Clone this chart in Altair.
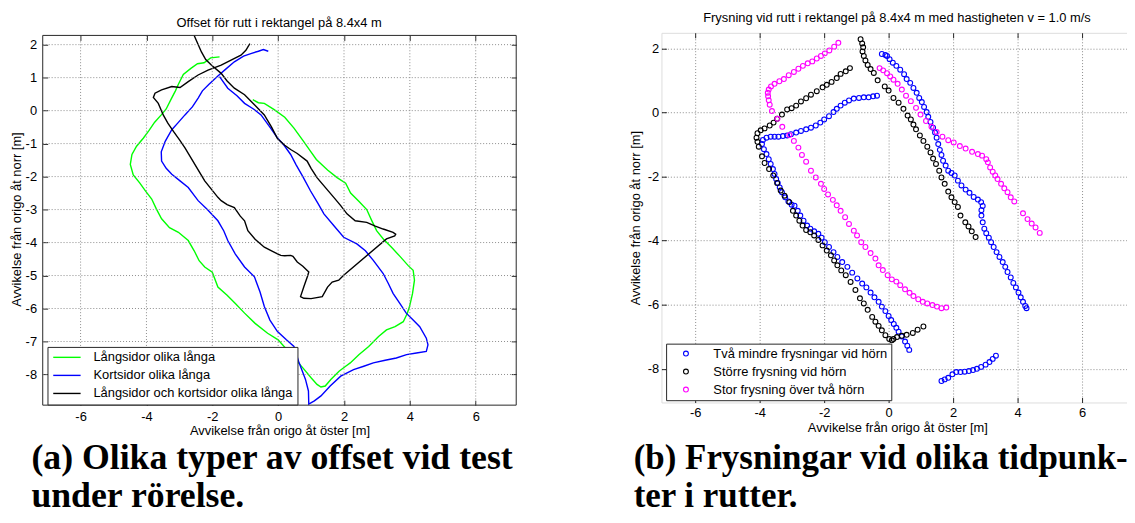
import altair as alt
import pandas as pd

FONT = "Liberation Sans"
SERIF = "Liberation Serif"
AX = "#262626"
GRID = "#8c8c8c"

# ---------------- Panel (a): offset tracks (x = öster, y = norr) ----------------
green_pts = [(-1.78,1.63),(-2.05,1.60),(-2.25,1.45),(-2.45,1.42),(-2.65,1.28),(-2.88,1.10),(-3.03,0.80),(-3.12,0.60),
             (-3.25,0.35),(-3.40,0.05),(-3.55,-0.13),(-3.75,-0.35),(-3.92,-0.60),(-4.09,-0.83),(-4.30,-1.08),(-4.44,-1.33),
             (-4.49,-1.63),(-4.40,-1.95),(-4.20,-2.20),(-4.02,-2.45),(-3.84,-2.68),(-3.70,-2.98),(-3.54,-3.28),(-3.30,-3.55),
             (-3.03,-3.69),(-2.73,-3.94),(-2.55,-4.25),(-2.40,-4.55),(-2.23,-4.74),(-2.00,-4.90),(-1.83,-5.35),(-1.55,-5.60),
             (-1.30,-5.85),(-1.02,-6.14),(-0.70,-6.45),(-0.32,-6.75),(0.00,-6.95),(0.18,-7.15),(0.45,-7.45),(0.75,-7.80),
             (1.00,-8.10),(1.18,-8.30),(1.30,-8.38),(1.43,-8.35),(1.60,-8.15),(1.85,-7.90),(2.05,-7.75),(2.19,-7.65),
             (2.45,-7.40),(2.75,-7.15),(3.05,-6.85),(3.29,-6.65),(3.55,-6.55),(3.80,-6.40),(3.92,-6.15),(3.99,-5.94),
             (4.08,-5.55),(4.14,-5.14),(4.10,-4.84),(3.95,-4.70),(3.70,-4.42),(3.45,-4.15),(3.20,-3.90),(2.99,-3.64),
             (2.85,-3.35),(2.69,-3.00),(2.45,-2.75),(2.20,-2.50),(2.05,-2.20),(1.79,-2.03),(1.50,-1.80),(1.16,-1.48),
             (0.98,-1.23),(0.75,-0.90),(0.48,-0.53),(0.20,-0.20),(-0.12,0.03),(-0.42,0.22),(-0.60,0.24),(-0.77,0.33)]

blue_pts = [(-0.30,1.80),(-0.45,1.85),(-0.60,1.80),(-0.83,1.73),(-1.05,1.65),(-1.33,1.48),(-1.60,1.25),(-1.83,1.05),
            (-2.10,0.80),(-2.30,0.60),(-2.43,0.38),(-2.60,0.12),(-2.83,-0.13),(-3.05,-0.38),(-3.23,-0.58),(-3.43,-0.93),
            (-3.55,-1.25),(-3.54,-1.53),(-3.40,-1.75),(-3.23,-1.93),(-2.98,-2.13),(-2.73,-2.33),(-2.43,-2.73),(-2.15,-3.00),
            (-1.83,-3.34),(-1.65,-3.65),(-1.53,-3.94),(-1.30,-4.35),(-1.02,-4.74),(-0.72,-5.04),(-0.55,-5.50),(-0.42,-5.94),
            (-0.25,-6.35),(-0.02,-6.70),(0.25,-6.95),(0.48,-7.15),(0.62,-7.60),(0.83,-8.15),(0.92,-8.50),(0.93,-8.90),
            (1.10,-8.80),(1.30,-8.65),(1.58,-8.35),(1.90,-8.05),(2.29,-7.85),(2.60,-7.75),(2.89,-7.65),(3.25,-7.57),
            (3.59,-7.50),(3.90,-7.40),(4.20,-7.35),(4.50,-7.30),(4.55,-7.10),(4.50,-6.90),(4.30,-6.55),(4.10,-6.35),
            (3.89,-6.14),(3.70,-5.85),(3.49,-5.54),(3.35,-5.25),(3.19,-4.94),(2.89,-4.54),(2.65,-4.25),(2.39,-4.04),
            (1.99,-3.84),(1.70,-3.50),(1.39,-3.13),(1.20,-2.80),(0.98,-2.43),(0.75,-2.00),(0.55,-1.65),(0.38,-1.33),
            (0.18,-1.05),(-0.02,-0.83),(-0.25,-0.50),(-0.52,-0.13),(-0.75,0.05),(-1.02,0.22),(-1.25,0.45),(-1.53,0.68),
            (-1.78,1.03)]

black_pts = [(-2.55,2.28),(-2.45,2.05),(-2.33,1.78),(-2.20,1.55),(-2.03,1.38),(-1.73,1.13),(-1.55,0.90),(-1.33,0.68),
             (-1.02,0.48),(-0.72,0.18),(-0.42,-0.13),(-0.20,-0.50),(-0.02,-0.85),(0.20,-1.05),(0.38,-1.18),(0.58,-1.30),
             (0.88,-1.53),(1.00,-1.75),(1.18,-2.03),(1.45,-2.35),(1.69,-2.63),(1.90,-2.88),(2.09,-3.13),(2.34,-3.34),
             (2.69,-3.39),(2.95,-3.50),(3.19,-3.59),(3.49,-3.69),(3.57,-3.75),(3.54,-3.80),(3.29,-3.89),(1.99,-4.99),
             (1.84,-5.14),(1.64,-5.20),(1.50,-5.35),(1.34,-5.64),(1.00,-5.70),(0.78,-5.69),(0.68,-5.64),(0.78,-5.34),
             (0.90,-5.00),(0.93,-4.89),(0.75,-4.72),(0.58,-4.59),(0.45,-4.42),(0.38,-4.39),(0.20,-4.40),(0.08,-4.39),
             (-0.02,-4.34),(-0.20,-4.25),(-0.42,-4.14),(-0.70,-3.90),(-0.92,-3.64),(-1.02,-3.34),(-1.15,-3.20),(-1.33,-2.94),
             (-1.55,-2.85),(-1.73,-2.73),(-1.83,-2.63),(-2.03,-2.38),(-2.23,-2.13),(-2.38,-1.88),(-2.53,-1.63),(-2.68,-1.38),
             (-2.83,-1.13),(-3.00,-0.88),(-3.18,-0.63),(-3.35,-0.38),(-3.49,-0.13),(-3.64,0.22),(-3.79,0.40),(-3.74,0.53),
             (-3.54,0.63),(-3.23,0.73),(-2.98,0.70),(-2.73,0.88),(-2.43,1.08),(-2.13,1.23),(-1.73,1.38),(-1.43,1.53),
             (-1.13,1.68),(-0.98,1.83),(-0.86,2.03)]

series_a = ["Långsidor olika långa", "Kortsidor olika långa", "Långsidor och kortsidor olika långa"]
colors_a = ["#00ff00", "#0000ff", "#000000"]

# ---------------- Panel (b): freezes ----------------
frz_blue = [(-0.21,1.82),(-0.10,1.79),(-0.05,1.76),(0.03,1.66),(0.13,1.55),(0.24,1.45),(0.36,1.33),(0.48,1.19),
            (0.56,1.04),(0.67,0.92),(0.77,0.76),(0.87,0.61),(0.95,0.45),(1.03,0.32),(1.10,0.17),(1.18,0.01),
            (1.23,-0.14),(1.30,-0.30),(1.38,-0.48),(1.44,-0.63),(1.49,-0.79),(1.54,-0.99),(1.59,-1.17),(1.64,-1.33),
            (1.69,-1.51),(1.77,-1.66),(1.85,-1.82),(1.95,-1.89),(2.05,-1.97),(2.15,-2.13),(2.26,-2.28),(2.39,-2.41),
            (2.51,-2.51),(2.64,-2.64),(2.77,-2.72),(2.87,-2.80),(2.92,-2.92),(2.88,-3.05),(2.88,-3.22),(2.92,-3.43),
            (2.97,-3.63),(3.03,-3.77),(3.11,-3.91),(3.18,-4.05),(3.26,-4.20),(3.35,-4.36),(3.44,-4.51),(3.54,-4.67),
            (3.62,-4.82),(3.69,-4.98),(3.79,-5.15),(3.87,-5.32),(3.95,-5.46),(4.03,-5.62),(4.10,-5.77),(4.17,-5.91),
            (4.24,-6.04),(4.28,-6.11),
            (-0.36,0.52),(-0.48,0.50),(-0.62,0.47),(-0.77,0.47),(-0.92,0.45),(-1.08,0.43),(-1.23,0.37),(-1.36,0.30),
            (-1.49,0.21),(-1.61,0.11),(-1.71,0.01),(-1.85,-0.12),(-2.00,-0.22),(-2.12,-0.32),(-2.26,-0.41),(-2.41,-0.48),
            (-2.56,-0.53),(-2.72,-0.58),(-2.87,-0.63),(-3.03,-0.68),(-3.15,-0.72),(-3.28,-0.74),(-3.42,-0.76),(-3.54,-0.76),
            (-3.66,-0.76),(-3.79,-0.79),(-3.90,-0.86),(-3.93,-0.99),(-3.87,-1.15),(-3.79,-1.30),(-3.72,-1.46),(-3.66,-1.61),
            (-3.59,-1.77),(-3.54,-1.92),(-3.49,-2.08),(-3.44,-2.20),(-3.38,-2.34),(-3.31,-2.49),(-3.21,-2.65),(-3.11,-2.78),
            (-3.01,-2.88),(-2.92,-2.91),(-2.82,-3.07),(-2.74,-3.22),(-2.64,-3.38),(-2.53,-3.53),(-2.43,-3.63),(-2.31,-3.71),
            (-2.18,-3.79),(-2.08,-3.91),(-1.98,-4.05),(-1.85,-4.20),(-1.71,-4.36),(-1.59,-4.51),(-1.44,-4.67),(-1.28,-4.82),
            (-1.13,-5.00),(-0.97,-5.18),(-0.82,-5.34),(-0.69,-5.46),(-0.56,-5.62),(-0.44,-5.77),(-0.31,-5.91),(-0.21,-6.06),
            (-0.10,-6.20),(0.00,-6.35),(0.08,-6.48),(0.16,-6.60),(0.24,-6.72),(0.31,-6.84),(0.41,-6.99),(0.51,-7.15),
            (0.58,-7.28),(0.64,-7.41),
            (1.64,-8.38),(1.74,-8.33),(1.85,-8.28),(1.98,-8.17),(2.10,-8.10),(2.23,-8.10),(2.36,-8.09),(2.49,-8.07),
            (2.62,-8.04),(2.74,-8.00),(2.87,-7.94),(3.01,-7.87),(3.13,-7.79),(3.23,-7.69),(3.33,-7.59)]

frz_black = [(-0.87,2.28),(-0.82,2.15),(-0.79,2.03),(-0.81,1.90),(-0.77,1.76),(-0.72,1.62),(-0.65,1.48),(-0.56,1.35),
             (-0.46,1.23),(-0.34,1.00),(-0.12,0.81),(0.00,0.68),(0.15,0.45),(0.31,0.30),(0.46,0.11),(0.59,-0.10),
             (0.69,-0.22),(0.77,-0.38),(0.85,-0.53),(0.97,-0.72),(1.08,-0.89),(1.20,-1.07),(1.30,-1.25),(1.38,-1.44),
             (1.47,-1.61),(1.57,-1.82),(1.64,-2.03),(1.74,-2.23),(1.85,-2.47),(1.95,-2.65),(2.05,-2.80),(2.15,-2.95),
             (2.23,-3.22),(2.38,-3.43),(2.48,-3.56),(2.58,-3.71),(2.70,-3.89),
             (-1.20,1.38),(-1.33,1.28),(-1.49,1.20),(-1.61,1.07),(-1.77,0.95),(-1.92,0.86),(-2.05,0.78),(-2.23,0.66),
             (-2.41,0.55),(-2.56,0.44),(-2.72,0.34),(-2.87,0.21),(-3.01,0.13),(-3.15,0.09),(-3.31,-0.07),(-3.46,-0.20),
             (-3.57,-0.32),(-3.69,-0.41),(-3.85,-0.50),(-3.97,-0.56),(-4.07,-0.65),(-4.10,-0.79),(-4.07,-0.92),(-4.03,-1.07),
             (-3.93,-1.37),(-3.85,-1.58),(-3.71,-1.77),(-3.58,-1.97),(-3.46,-2.20),(-3.35,-2.44),(-3.23,-2.60),(-3.08,-2.80),
             (-2.97,-3.07),(-2.87,-3.22),(-2.77,-3.38),(-2.67,-3.53),(-2.56,-3.67),(-2.43,-3.74),(-2.31,-3.84),(-2.18,-3.98),
             (-2.05,-4.15),(-1.92,-4.31),(-1.79,-4.46),(-1.69,-4.62),(-1.59,-4.77),(-1.47,-4.93),(-1.33,-5.08),(-1.18,-5.29),
             (-1.03,-5.54),(-0.89,-5.80),(-0.77,-5.96),(-0.65,-6.16),(-0.51,-6.38),(-0.41,-6.53),(-0.31,-6.66),(-0.21,-6.80),
             (-0.10,-6.95),(0.02,-7.07),(0.10,-7.11),(0.15,-7.07),(0.26,-7.01),(0.41,-6.97),(0.56,-6.94),(0.75,-6.88),
             (0.90,-6.78),(1.08,-6.68)]

frz_magenta = [(-1.56,2.17),(-1.69,2.05),(-1.84,1.93),(-1.98,1.84),(-2.10,1.76),(-2.23,1.68),(-2.37,1.59),(-2.51,1.53),
               (-2.66,1.45),(-2.80,1.36),(-2.94,1.26),(-3.10,1.16),(-3.25,1.04),(-3.39,0.97),(-3.54,0.89),(-3.65,0.81),
               (-3.72,0.71),(-3.75,0.61),(-3.74,0.50),(-3.72,0.38),(-3.69,0.24),(-3.62,0.04),(-3.45,-0.20),(-3.30,-0.45),
               (-3.08,-0.71),(-2.94,-0.89),(-2.80,-1.10),(-2.69,-1.33),(-2.56,-1.54),(-2.41,-1.82),(-2.26,-2.03),(-2.10,-2.23),
               (-2.00,-2.39),(-1.88,-2.56),(-1.73,-2.73),(-1.61,-2.90),(-1.49,-3.07),(-1.35,-3.27),(-1.23,-3.48),(-1.08,-3.69),
               (-0.98,-3.84),(-0.85,-4.05),(-0.72,-4.20),(-0.56,-4.39),(-0.41,-4.56),(-0.31,-4.77),(-0.18,-4.92),(-0.03,-5.08),
               (0.10,-5.21),(0.24,-5.28),(0.36,-5.39),(0.51,-5.52),(0.65,-5.63),(0.77,-5.73),(0.92,-5.83),(1.06,-5.91),
               (1.20,-5.96),(1.36,-6.01),(1.50,-6.06),(1.64,-6.11),(1.79,-6.09),
               (-0.28,1.38),(-0.17,1.31),(-0.05,1.22),(0.05,1.12),(0.15,1.02),(0.28,0.89),(0.41,0.71),(0.54,0.52),
               (0.69,0.35),(0.85,0.14),(0.99,-0.07),(1.16,-0.27),(1.33,-0.45),(1.49,-0.61),(1.67,-0.76),(1.85,-0.87),
               (2.02,-0.94),(2.21,-1.05),(2.39,-1.13),(2.59,-1.23),(2.77,-1.30),(2.90,-1.35),(3.03,-1.46),(3.08,-1.56),
               (3.15,-1.72),(3.23,-1.85),(3.31,-1.97),(3.38,-2.08),(3.49,-2.23),(3.59,-2.37),(3.69,-2.49),(3.79,-2.65),
               (3.90,-2.78),(4.17,-3.15),(4.31,-3.33),(4.44,-3.47),(4.56,-3.59),(4.69,-3.76)]

series_b = ["Två mindre frysningar vid hörn", "Större frysning vid hörn", "Stor frysning över två hörn"]
colors_b = ["#0000ff", "#000000", "#ff00ff"]

# ---------------- texts and ticks ----------------
title_a = "Offset för rutt i rektangel på 8.4x4 m"
title_b = "Frysning vid rutt i rektangel på 8.4x4 m med hastigheten v = 1.0 m/s"
xlabel = "Avvikelse från origo åt öster [m]"
ylabel = "Avvikelse från origo åt norr [m]"
caption_a = ["(a) Olika typer av offset vid test", "under rörelse."]
caption_b = ["(b) Frysningar vid olika tidpunk-", "ter i rutter."]

xticks = [-6, -4, -2, 0, 2, 4, 6]
yticks_a = [-8, -7, -6, -5, -4, -3, -2, -1, 0, 1, 2]
yticks_b = [-8, -6, -4, -2, 0, 2]

# panel (a) box limits (data units)
xlim_a = [-7.15, 7.23]
ylim_a = [-8.93, 2.28]

# ---------------- tables ----------------
rows = []
for name, pts in zip(series_a, [green_pts, blue_pts, black_pts]):
    for i, (x, y) in enumerate(pts):
        rows.append({"x": x, "y": y, "serie": name, "i": i})
df_a = pd.DataFrame(rows)

rows = []
for name, pts in zip(series_b, [frz_blue, frz_black, frz_magenta]):
    for i, (x, y) in enumerate(pts):
        rows.append({"x": x, "y": y, "serie": name, "i": i})
df_b = pd.DataFrame(rows)

one = pd.DataFrame({"k": [0]})
gx_a = pd.DataFrame({"v": xticks, "lo": ylim_a[0], "hi": ylim_a[1]})
gy_a = pd.DataFrame({"v": yticks_a, "lo": xlim_a[0], "hi": xlim_a[1]})
box_df = pd.DataFrame({"x1": [xlim_a[0]], "x2": [xlim_a[1]], "y1": [ylim_a[0]], "y2": [ylim_a[1]]})


def main_x(lp, tY, tX=None, grid=True):
    kw = dict(orient="bottom", values=xticks, offset=-5, tickSize=5, ticks=True, tickColor=AX, tickWidth=1,
              domain=False, grid=grid, gridDash=[1, 2], gridColor=GRID, gridWidth=1,
              labelPadding=lp, labelFont=FONT, labelFontSize=13, labelColor="black",
              labelExpr="'' + datum.value", labelFlush=False, labelOverlap=False,
              title=xlabel, titleFont=FONT, titleFontSize=13, titleFontWeight="normal",
              titleColor="black", titleY=tY, titleBaseline="middle")
    if tX is not None:
        kw["titleX"] = tX
    return alt.Axis(**kw)


def main_y(values, lp, tX, grid=True):
    return alt.Axis(orient="left", values=values, offset=-5, tickSize=5, ticks=True, tickColor=AX, tickWidth=1,
                    domain=False, grid=grid, gridDash=[1, 2], gridColor=GRID, gridWidth=1,
                    labelPadding=lp, labelFont=FONT, labelFontSize=13, labelColor="black",
                    labelExpr="'' + datum.value", labelFlush=False, labelOverlap=False,
                    title=ylabel, titleFont=FONT, titleFontSize=13, titleFontWeight="normal",
                    titleColor="black", titleX=tX, titleBaseline="middle")


def tick_axis(orient, values, off=-5):
    return alt.Axis(orient=orient, values=values, offset=off, tickSize=5, ticks=True, tickColor=AX,
                    tickWidth=1, domain=False, grid=False, labels=False, title=None)


def label_text(txt, x, y, size=13, font=FONT, weight="normal", align="center", line_h=None):
    kw = dict(text=txt, font=font, fontSize=size, fontWeight=weight, align=align,
              baseline="alphabetic", color="black")
    if line_h is not None:
        kw["lineHeight"] = line_h
    return alt.Chart(one).mark_text(**kw).encode(x=alt.value(x), y=alt.value(y))


# ---------------- panel (a) ----------------
# the view starts 2.6 px above the drawn box so that the box sits lower than panel (b)
xs_a = alt.Scale(domain=xlim_a, nice=False, zero=False)
ys_a = alt.Scale(domain=[ylim_a[0], 2.358], nice=False, zero=False)

legend_a = alt.Legend(orient="none", legendX=4.8, legendY=316.6, title=None, direction="vertical",
                      fillColor="white", strokeColor=AX, padding=4, rowPadding=4.2,
                      symbolType="M-4.6,0H4.6", symbolSize=36, symbolStrokeWidth=1.4,
                      symbolOffset=9.1, labelOffset=20.2, labelFont=FONT, labelFontSize=13,
                      labelColor="black", labelLimit=400)

lines_a = alt.Chart(df_a).mark_line(strokeWidth=1.4).encode(
    x=alt.X("x:Q", scale=xs_a, axis=main_x(5.3, 31, grid=False)),
    y=alt.Y("y:Q", scale=ys_a, axis=main_y(yticks_a, 6.2, -31.5, grid=False)),
    color=alt.Color("serie:N", scale=alt.Scale(domain=series_a, range=colors_a), legend=legend_a),
    order=alt.Order("i:Q"),
)
ticks_a = alt.Chart(df_a).mark_point(opacity=0).encode(
    x=alt.X("x:Q", axis=tick_axis("top", xticks, -7.6)),
    y=alt.Y("y:Q", axis=tick_axis("right", yticks_a)),
)
grid_vx = alt.Chart(gx_a).mark_rule(strokeDash=[1, 2], color=GRID, strokeWidth=1).encode(
    x=alt.X("v:Q", axis=None), y=alt.Y("hi:Q", axis=None), y2="lo:Q")
grid_hy = alt.Chart(gy_a).mark_rule(strokeDash=[1, 2], color=GRID, strokeWidth=1).encode(
    y=alt.Y("v:Q", axis=None), x=alt.X("lo:Q", axis=None), x2="hi:Q")
box_a = alt.Chart(box_df).mark_rect(fillOpacity=0, stroke=AX, strokeWidth=1).encode(
    x=alt.X("x1:Q", axis=None), x2="x2:Q", y=alt.Y("y2:Q", axis=None), y2="y1:Q")
cap_a = label_text(caption_a, -11.4, 439.3, size=36.0, font=SERIF, weight="bold", align="left", line_h=39)
ttl_a = label_text(title_a, 238.3, -6.2)
anchor = alt.Chart(one).mark_point(opacity=0, size=1, filled=True).encode(
    x=alt.value(-34.4), y=alt.value(-22.4))

panel_a = alt.layer(lines_a, ticks_a, grid_vx, grid_hy, box_a, cap_a, ttl_a, anchor).resolve_axis(
    x="independent", y="independent"
).properties(width=477.3, height=375.3, view=alt.ViewBackground(stroke=None))

# ---------------- panel (b) ----------------
xs_b = alt.Scale(domain=[-7.05, 7.45], nice=False, zero=False)
ys_b = alt.Scale(domain=[-9.05, 2.48], nice=False, zero=False)

legend_b = alt.Legend(orient="none", legendX=4.7, legendY=313.3, title=None, direction="vertical",
                      fillColor="white", strokeColor=AX, padding=3.5, rowPadding=4.15,
                      symbolType="circle", symbolSize=24, symbolStrokeWidth=1.1,
                      symbolOffset=10, labelOffset=21.1, labelFont=FONT, labelFontSize=13,
                      labelColor="black", labelLimit=400)

pts_b = alt.Chart(df_b).mark_point(size=24, strokeWidth=1.1, filled=False, opacity=1).encode(
    x=alt.X("x:Q", scale=xs_b, axis=main_x(4.6, 30.3, 237.8)),
    y=alt.Y("y:Q", scale=ys_b, axis=main_y(yticks_b, 2.8, -31.5)),
    color=alt.Color("serie:N", scale=alt.Scale(domain=series_b, range=colors_b), legend=legend_b),
)
ticks_b = alt.Chart(df_b).mark_point(opacity=0).encode(
    x=alt.X("x:Q", axis=tick_axis("top", xticks)),
)
cap_b = label_text(caption_b, -28, 439.3, size=35.2, font=SERIF, weight="bold", align="left", line_h=39)
ttl_b = label_text(title_b, 237.4, -11.2)

panel_b = alt.layer(pts_b, ticks_b, cap_b, ttl_b).properties(width=471, height=372.6)

chart = alt.hconcat(panel_a, panel_b, spacing=145.7, bounds="flush").resolve_scale(
    color="independent"
).properties(
    padding={"left": 0, "top": 0, "right": -3, "bottom": 0}
).configure_view(stroke=AX, strokeWidth=1).configure(font=FONT)

chart.save("out.html", embed_options={"renderer": "svg", "actions": False})
